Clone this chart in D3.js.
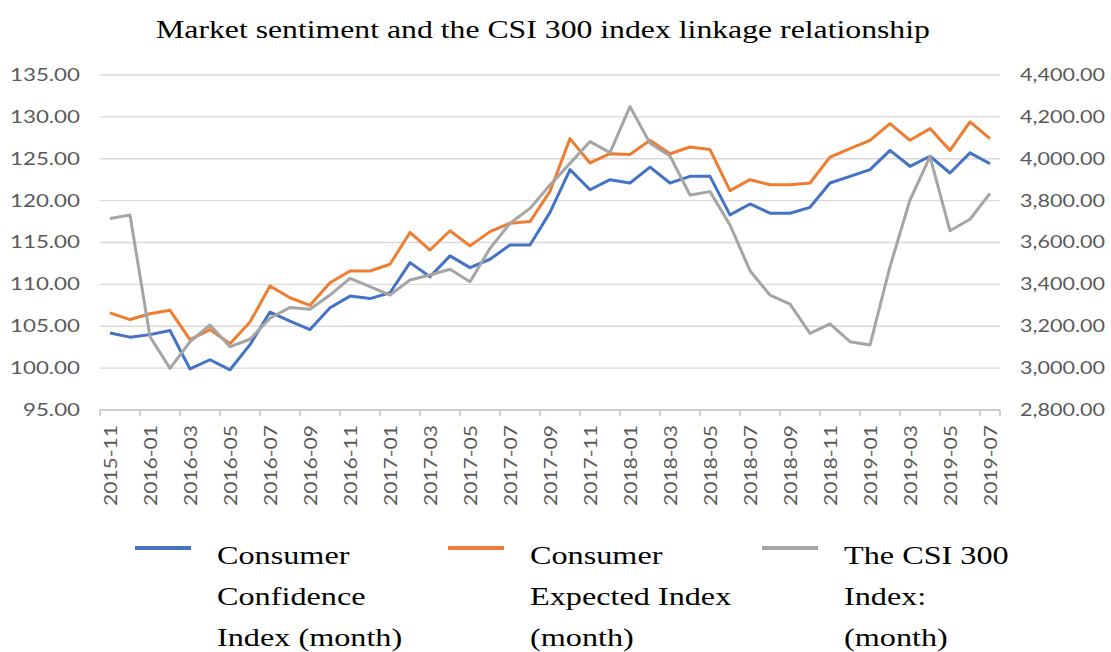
<!DOCTYPE html>
<html>
<head>
<meta charset="utf-8">
<script src="https://cdn.jsdelivr.net/npm/d3@7"></script>
<style>
  body { margin: 0; background: #fff; }
  svg { display: block; }
</style>
</head>
<body>
<svg id="chart" width="1111" height="652"></svg>
<script>
// monthly categories 2015-11 .. 2019-07
const months = [];
for (let y = 2015, m = 11; y < 2019 || (y === 2019 && m <= 7); m++) {
  if (m > 12) { m = 1; y++; }
  months.push(`${y}-${String(m).padStart(2, '0')}`);
}

const confidence = [
  104.2, 103.7, 104.0, 104.5, 99.9, 101.0, 99.8, 102.8, 106.7, 105.6,
  104.6, 107.2, 108.6, 108.3, 109.0, 112.6, 110.9, 113.4, 112.0, 113.0,
  114.7, 114.7, 118.6, 123.7, 121.3, 122.5, 122.1, 124.0, 122.1, 122.9,
  122.9, 118.3, 119.6, 118.5, 118.5, 119.2, 122.1, 122.9, 123.7, 126.0,
  124.1, 125.3, 123.3, 125.7, 124.4,
];

const expected = [
  106.6, 105.8, 106.5, 106.9, 103.4, 104.6, 102.9, 105.5, 109.8, 108.4,
  107.5, 110.2, 111.6, 111.6, 112.4, 116.2, 114.1, 116.4, 114.6, 116.3,
  117.3, 117.5, 121.1, 127.4, 124.5, 125.6, 125.5, 127.2, 125.6, 126.4,
  126.1, 121.2, 122.5, 121.9, 121.9, 122.1, 125.2, 126.2, 127.2, 129.2,
  127.2, 128.6, 126.0, 129.4, 127.4,
];

const csi300 = [
  3715, 3731, 3150, 2999, 3126, 3206, 3102, 3138, 3238, 3290,
  3281, 3349, 3429, 3389, 3349, 3421, 3445, 3472, 3413, 3572,
  3692, 3763, 3875, 3978, 4082, 4029, 4249, 4074, 4013, 3827,
  3843, 3684, 3465, 3349, 3306, 3166, 3211, 3126, 3110, 3485,
  3803, 4010, 3656, 3711, 3835,
];

const leftTicks = [95, 100, 105, 110, 115, 120, 125, 130, 135];
const rightTicks = [2800, 3000, 3200, 3400, 3600, 3800, 4000, 4200, 4400];

const series = [
  { name: ['Consumer', 'Confidence', 'Index (month)'], values: confidence, axis: 'left', color: '#4472c4' },
  { name: ['Consumer', 'Expected Index', '(month)'], values: expected, axis: 'left', color: '#ed7d31' },
  { name: ['The CSI 300', 'Index:', '(month)'], values: csi300, axis: 'right', color: '#a5a5a5' },
];

const plot = { left: 100, right: 1000, top: 75, bottom: 410 };
const svg = d3.select('#chart');
const labelFont = 'Lato, "Open Sans", sans-serif';
const serif = '"Liberation Serif", "Times New Roman", serif';

const x = d3.scaleBand().domain(months).range([plot.left, plot.right]);
const yL = d3.scaleLinear().domain([95, 135]).range([plot.bottom, plot.top]);
const yR = d3.scaleLinear().domain([2800, 4400]).range([plot.bottom, plot.top]);

// the source picture is a bit wider than tall, so text is stretched sideways
svg.append('text')
  .attr('transform', 'translate(543,38) scale(1.27,1)')
  .attr('text-anchor', 'middle')
  .attr('font-family', serif).attr('font-size', 25)
  .attr('fill', '#000')
  .text('Market sentiment and the CSI 300 index linkage relationship');

// gridlines
svg.append('g')
  .selectAll('line')
  .data(leftTicks.slice(1))
  .join('line')
  .attr('x1', plot.left).attr('x2', plot.right)
  .attr('y1', (d) => yL(d)).attr('y2', (d) => yL(d))
  .attr('stroke', '#d9d9d9').attr('stroke-width', 1.3);

// left axis labels
const leftAxis = svg.append('g')
  .attr('transform', `translate(${plot.left},0)`)
  .call(d3.axisLeft(yL).tickValues(leftTicks).tickFormat(d3.format('.2f')).tickSize(0).tickPadding(20));
leftAxis.select('.domain').remove();
leftAxis.selectAll('text')
  .attr('font-family', labelFont).attr('font-size', 17).attr('fill', '#595959')
  .attr('lengthAdjust', 'spacingAndGlyphs')
  .attr('textLength', (d) => (d >= 100 ? 70 : 57));

// right axis labels
const rightAxis = svg.append('g')
  .attr('transform', `translate(${plot.right},0)`)
  .call(d3.axisRight(yR).tickValues(rightTicks).tickFormat(d3.format(',.2f')).tickSize(0).tickPadding(20));
rightAxis.select('.domain').remove();
rightAxis.selectAll('text')
  .attr('font-family', labelFont).attr('font-size', 17).attr('fill', '#595959')
  .attr('lengthAdjust', 'spacingAndGlyphs')
  .attr('textLength', 85);

// bottom axis
const tickMonths = months.filter((d, i) => i % 2 === 0);
const bottom = svg.append('g').attr('transform', `translate(0,${plot.bottom})`);
bottom.append('line')
  .attr('x1', plot.left).attr('x2', plot.right)
  .attr('stroke', '#bfbfbf').attr('stroke-width', 1.5);
bottom.selectAll('line.tick')
  .data([...tickMonths.map((d) => x(d)), plot.right])
  .join('line')
  .attr('class', 'tick')
  .attr('x1', (d) => d).attr('x2', (d) => d)
  .attr('y1', 0).attr('y2', 6)
  .attr('stroke', '#bfbfbf').attr('stroke-width', 1.5);
bottom.selectAll('text')
  .data(tickMonths)
  .join('text')
  .attr('transform', (d) => `translate(${x(d) + x.bandwidth() / 2 + 7},15) rotate(-90)`)
  .attr('text-anchor', 'end')
  .attr('font-family', labelFont).attr('font-size', 17).attr('fill', '#595959')
  .attr('lengthAdjust', 'spacingAndGlyphs')
  .attr('textLength', 81)
  .text((d) => d);

// lines
const cx = (i) => x(months[i]) + x.bandwidth() / 2;
series.forEach((s) => {
  const y = s.axis === 'left' ? yL : yR;
  svg.append('path')
    .datum(s.values)
    .attr('fill', 'none')
    .attr('stroke', s.color)
    .attr('stroke-width', 3)
    .attr('stroke-linejoin', 'round')
    .attr('d', d3.line().x((d, i) => cx(i)).y((d) => y(d)));
});

// legend
const legendX = [135, 448, 762];
const legend = svg.append('g');
series.forEach((s, k) => {
  const g = legend.append('g').attr('transform', `translate(${legendX[k]},548)`);
  g.append('line')
    .attr('x1', 0).attr('x2', 56)
    .attr('stroke', s.color).attr('stroke-width', 4);
  g.append('text')
    .attr('transform', 'translate(82,0) scale(1.24,1)')
    .attr('font-family', serif).attr('font-size', 26).attr('fill', '#000')
    .selectAll('tspan')
    .data(s.name)
    .join('tspan')
    .attr('x', 0)
    .attr('y', (d, i) => 16 + i * 41)
    .text((d) => d);
});
</script>
</body>
</html>
